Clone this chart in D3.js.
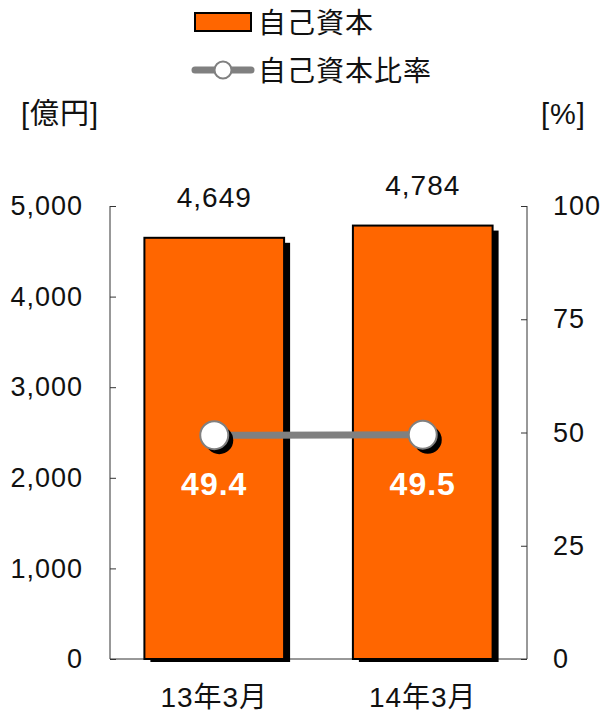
<!DOCTYPE html>
<html>
<head>
<meta charset="utf-8">
<script src="https://cdn.jsdelivr.net/npm/d3@7"></script>
<style>
  body { margin: 0; background: #fff; }
  svg text { font-family: "Liberation Sans", Arial, "Noto Sans CJK JP", sans-serif; letter-spacing: 1px; }
</style>
</head>
<body>
<svg id="chart" width="602" height="712"></svg>
<script>
'use strict';

const categories = ['13年3月', '14年3月'];
const equity = [4649, 4784];
const equityRatio = [49.4, 49.5];
const leftTicks = [0, 1000, 2000, 3000, 4000, 5000];
const rightTicks = [0, 25, 50, 75, 100];

const ORANGE = '#ff6600';
const GREY = '#808080';

const vis = d3.select('#chart');
const margin = {top: 206, right: 75, bottom: 53, left: 110};
const width = +vis.attr('width') - margin.left - margin.right;
const height = +vis.attr('height') - margin.top - margin.bottom;

const x = d3.scaleBand().domain(categories).range([0, width]).paddingInner(0.33).paddingOuter(0.165);
const yL = d3.scaleLinear().domain([0, 5000]).range([height, 0]);
const yR = d3.scaleLinear().domain([0, 100]).range([height, 0]);

const g = vis.append('g').attr('transform', `translate(${margin.left},${margin.top})`);

// axes (ticks point into the plot)
const leftAxis = g.append('g')
    .call(d3.axisLeft(yL).tickValues(leftTicks).tickSize(-6).tickPadding(27).tickFormat(d3.format(',')));
const rightAxis = g.append('g')
    .attr('transform', `translate(${width},0)`)
    .call(d3.axisRight(yR).tickValues(rightTicks).tickSize(-6).tickPadding(26));
[leftAxis, rightAxis].forEach(a => {
    a.select('.domain').attr('stroke', '#333').attr('d', `M0,0V${height}`);
    a.selectAll('line').attr('stroke', '#333');
    a.selectAll('text').attr('font-size', 27).attr('fill', '#111');
});
g.append('line')
    .attr('x1', 0).attr('x2', width)
    .attr('y1', height).attr('y2', height)
    .attr('stroke', '#333');

// bars with drop shadow
const bars = g.append('g').selectAll('g').data(categories).enter().append('g');
bars.append('rect')
    .attr('x', d => x(d) + 6)
    .attr('y', (d, i) => yL(equity[i]) + 5)
    .attr('width', x.bandwidth())
    .attr('height', (d, i) => height - yL(equity[i]) - 2)
    .attr('fill', '#000');
bars.append('rect')
    .attr('x', d => x(d))
    .attr('y', (d, i) => yL(equity[i]))
    .attr('width', x.bandwidth())
    .attr('height', (d, i) => height - yL(equity[i]))
    .attr('fill', ORANGE)
    .attr('stroke', '#000')
    .attr('stroke-width', 2);
bars.append('text')
    .attr('x', d => x(d) + x.bandwidth() / 2)
    .attr('y', (d, i) => yL(equity[i]) - 31)
    .attr('text-anchor', 'middle')
    .attr('font-size', 28)
    .attr('fill', '#111')
    .text((d, i) => d3.format(',')(equity[i]));

// ratio line
const cx = d => x(d) + x.bandwidth() / 2;
g.append('path')
    .datum(categories)
    .attr('d', d3.line().x(cx).y((d, i) => yR(equityRatio[i])))
    .attr('stroke', GREY)
    .attr('stroke-width', 7)
    .attr('fill', 'none');
const pts = g.append('g').selectAll('g').data(categories).enter().append('g');
pts.append('circle')
    .attr('cx', d => cx(d) + 5)
    .attr('cy', (d, i) => yR(equityRatio[i]) + 5)
    .attr('r', 14)
    .attr('fill', '#000');
pts.append('circle')
    .attr('cx', cx)
    .attr('cy', (d, i) => yR(equityRatio[i]))
    .attr('r', 14)
    .attr('fill', '#fff')
    .attr('stroke', GREY)
    .attr('stroke-width', 2);
pts.append('text')
    .attr('x', cx)
    .attr('y', (d, i) => yR(equityRatio[i]) + 60)
    .attr('text-anchor', 'middle')
    .attr('font-size', 32)
    .attr('font-weight', 'bold')
    .attr('fill', '#fff')
    .text((d, i) => equityRatio[i].toFixed(1));

// category labels
g.append('g').selectAll('text').data(categories).enter().append('text')
    .attr('x', cx)
    .attr('y', height + 48)
    .attr('text-anchor', 'middle')
    .attr('font-size', 28)
    .attr('fill', '#111')
    .text(d => d);

// unit labels
vis.append('text').attr('x', 21).attr('y', 124).attr('font-size', 29).attr('fill', '#111').text('[億円]');
vis.append('text').attr('x', 541).attr('y', 124).attr('font-size', 29).attr('fill', '#111').text('[%]');

// legend
const lg = vis.append('g');
lg.append('rect').attr('x', 195).attr('y', 13).attr('width', 56).attr('height', 18)
    .attr('fill', ORANGE).attr('stroke', '#000').attr('stroke-width', 2);
lg.append('text').attr('x', 258).attr('y', 33).attr('font-size', 28).attr('fill', '#111').text('自己資本');
lg.append('line').attr('x1', 195).attr('x2', 251).attr('y1', 70).attr('y2', 70)
    .attr('stroke', GREY).attr('stroke-width', 7).attr('stroke-linecap', 'round');
lg.append('circle').attr('cx', 223).attr('cy', 70).attr('r', 8.5)
    .attr('fill', '#fff').attr('stroke', GREY).attr('stroke-width', 2);
lg.append('text').attr('x', 258).attr('y', 81).attr('font-size', 28).attr('fill', '#111').text('自己資本比率');
</script>
</body>
</html>
